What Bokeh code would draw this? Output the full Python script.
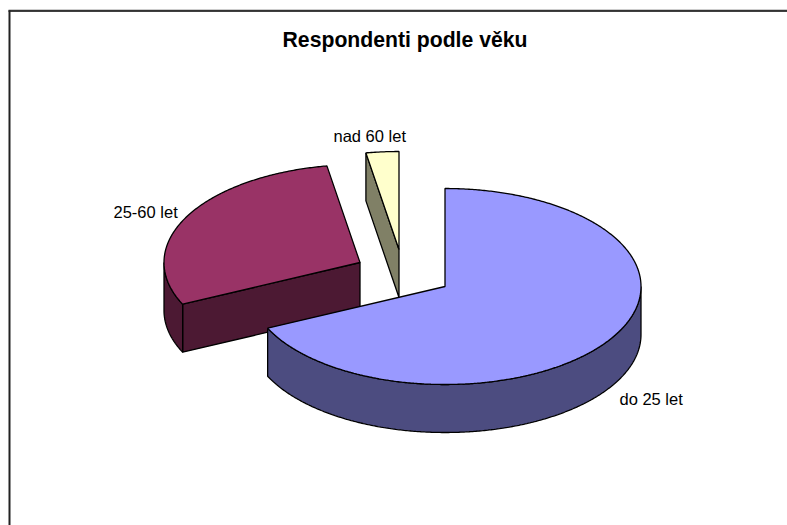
import numpy as np
from bokeh.plotting import figure
from bokeh.core.properties import value
from bokeh.embed import file_html
from bokeh.resources import INLINE
from bokeh.models import Range1d

title = "Respondenti podle věku"
categories = ["do 25 let", "25-60 let", "nad 60 let"]
values = [68.0, 29.3, 2.7]

top_colors = ["#9999FF", "#993366", "#FFFFCC"]
side_colors = ["#4C4C80", "#4C1933", "#808066"]
explode_px = [(0, 0), (-85, -24), (-46, -37)]
label_pos = [(619, 398), (113, 211), (333, 135)]

W, H = 787, 525
CX, CY, RX, RY, DEPTH = 444.5, 286, 196, 98, 48

p = figure(width=W, height=H, x_range=Range1d(0, W), y_range=Range1d(H, 0),
           output_backend="svg", toolbar_location=None, min_border=0,
           x_axis_location=None, y_axis_location=None, outline_line_color=None)
p.grid.visible = False

# chart-area frame: only its top and left edges fall inside the picture
p.line([8, W], [9.5, 9.5], line_color="#999999", line_width=1)
p.line([8, W], [10.5, 10.5], line_color="black", line_width=1.5)
p.line([9, 9], [10, H], line_color="#222222", line_width=2)

total = sum(values)
ends = np.cumsum(values) / total * 360.0
starts = np.concatenate([[0.0], ends[:-1]])


def rim(a0, a1, dx, dy):
    a = np.radians(np.linspace(a0, a1, max(int(abs(a1 - a0) * 2), 2)))
    return CX + dx + RX * np.sin(a), CY + dy - RY * np.cos(a)


def face(xs, ys, color):
    p.patch(list(xs), list(ys), fill_color=color, line_color="black", line_width=1.3)


def extrude(xs, ys, color):
    face(np.concatenate([xs, xs[::-1]]), np.concatenate([ys, ys[::-1] + DEPTH]), color)


for i in [2, 1, 0]:
    a0, a1 = starts[i], ends[i]
    dx, dy = explode_px[i]
    apex_x, apex_y = CX + dx, CY + dy
    # far cut face, visible for the slices left of the centre
    if i in (1, 2):
        ex, ey = rim(a0, a0, dx, dy)
        extrude(np.array([ex[0], apex_x]), np.array([ey[0], apex_y]), side_colors[i])
    # curved outer wall: only the front half of the rim shows
    w0, w1 = max(a0, 90.0), min(a1, 270.0)
    if w1 > w0:
        wx, wy = rim(w0, w1, dx, dy)
        extrude(wx, wy, side_colors[i])
    # top surface
    tx, ty = rim(a0, a1, dx, dy)
    face(np.concatenate([[apex_x], tx]), np.concatenate([[apex_y], ty]), top_colors[i])

for name, (lx, ly) in zip(categories, label_pos):
    p.text([lx], [ly], text=[name], text_font=value("Liberation Sans"), text_font_size="16.5px",
           text_color="black", text_align="left", text_baseline="middle")

p.text([404.5], [39], text=[title], text_font=value("Liberation Sans"), text_font_size="21.2px",
       text_font_style="bold", text_color="black", text_align="center", text_baseline="middle")

open("out.html", "w").write(file_html(p, INLINE))
